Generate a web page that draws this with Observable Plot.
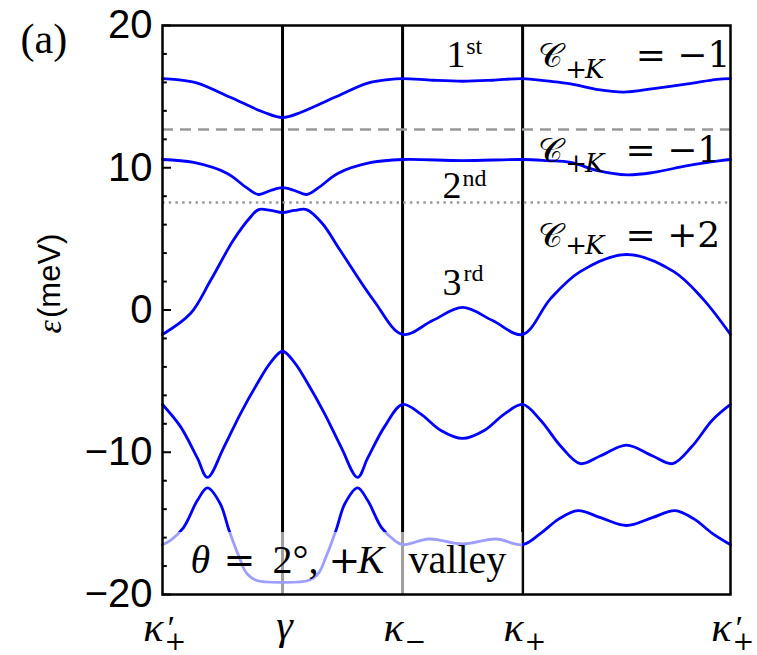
<!DOCTYPE html>
<html><head><meta charset="utf-8">
<script src="https://cdn.jsdelivr.net/npm/d3@7"></script>
<script src="https://cdn.jsdelivr.net/npm/@observablehq/plot@0.6"></script>
<style>body{margin:0;background:#fff} svg{display:block}</style>
</head><body><div id="chart"></div>
<script>
// k-path high-symmetry points (path length units)
const kPos = [0, 1, 2, 3, 4.732];
const kMain = ["κ", "γ", "κ", "κ", "κ"];
const kPrime = ["′", "", "", "", "′"];
const kSub = ["+", "", "−", "+", "+"];
const kLines = [1, 2, 3];

const yTicks = [-20, -10, 0, 10, 20];
const yMinor = [-18, -16, -14, -12, -8, -6, -4, -2, 2, 4, 6, 8, 12, 14, 16, 18];

const dashedLevel = [12.69];
const dottedLevel = [7.56];

// bands: [k, energy (meV)]
const band1 = [[0,16.27],[0.12,16.2],[0.29,15.95],[0.565,14.95],[0.845,13.9],[1,13.53],[1.155,13.9],[1.435,14.95],[1.71,15.95],[1.88,16.2],[2,16.27],[2.25,16.15],[2.5,16.08],[2.75,16.15],[3,16.27],[3.2,16.1],[3.4,15.9],[3.625,15.5],[3.84,15.32],[4.09,15.57],[4.375,15.9],[4.62,16.22],[4.732,16.27]];
const band2 = [[0,10.58],[0.26,10.37],[0.54,9.6],[0.7,8.6],[0.8,8.12],[0.9,8.4],[1,8.6],[1.1,8.4],[1.2,8.12],[1.3,8.6],[1.46,9.6],[1.74,10.37],[2,10.58],[2.5,10.5],[3,10.58],[3.2,10.5],[3.4,10.37],[3.625,9.8],[3.87,9.5],[4.09,9.67],[4.375,10.15],[4.65,10.5],[4.732,10.58]];
const band3 = [[0,-1.72],[0.233,-0.25],[0.4,2.07],[0.59,4.9],[0.73,6.5],[0.8,7.06],[0.9,7.0],[1,6.85],[1.1,7.0],[1.2,7.06],[1.33,6.1],[1.48,4.2],[1.76,0.67],[2,-1.72],[2.25,-0.74],[2.5,0.18],[2.75,-0.74],[3,-1.72],[3.233,0.8],[3.48,2.7],[3.866,3.9],[4.26,2.7],[4.5,0.8],[4.732,-1.72]];
const band4 = [[0,-6.64],[0.15,-8.2],[0.29,-10.4],[0.375,-11.77],[0.51,-9.67],[0.65,-7.28],[0.79,-5.17],[0.9,-3.7],[1,-2.9],[1.1,-3.7],[1.21,-5.17],[1.35,-7.28],[1.49,-9.67],[1.625,-11.77],[1.71,-10.4],[1.85,-8.2],[2,-6.64],[2.15,-7.3],[2.32,-8.47],[2.5,-9.03],[2.68,-8.47],[2.85,-7.3],[3,-6.64],[3.15,-7.75],[3.32,-9.6],[3.48,-10.8],[3.65,-10.25],[3.866,-9.5],[4.08,-10.25],[4.25,-10.8],[4.41,-9.6],[4.58,-7.75],[4.732,-6.64]];
const band5 = [[0,-16.5],[0.067,-16.2],[0.175,-15.3],[0.29,-13.4],[0.375,-12.5],[0.48,-13.6],[0.555,-15.5],[0.64,-17.4],[0.7,-18.5],[0.78,-19.0],[1,-19.15],[1.22,-19.0],[1.3,-18.5],[1.36,-17.4],[1.445,-15.5],[1.52,-13.6],[1.625,-12.5],[1.71,-13.4],[1.825,-15.3],[1.933,-16.2],[2,-16.5],[2.22,-16.1],[2.5,-16.45],[2.78,-16.1],[3,-16.5],[3.15,-15.7],[3.3,-14.7],[3.46,-14.1],[3.65,-14.6],[3.866,-15.15],[4.08,-14.6],[4.27,-14.1],[4.43,-14.7],[4.58,-15.7],[4.732,-16.5]];

const chernLabels = ["= −1", "= −1", "= +2"];
const ordinalMain = ["1", "2", "3"];
const ordinalSup = ["st", "nd", "rd"];

const bands = [band1, band2, band3, band4, band5]
  .flatMap((b, i) => b.map(([k, e]) => ({band: i, k, e})));
const kTicks = kPos.map((x, i) => ({x, main: kMain[i], prime: kPrime[i], sub: kSub[i]}));

const serif = "'DejaVu Serif', 'Liberation Serif', serif";
const times = "'Liberation Serif', serif";
const sans = "'Liberation Sans', Arial, sans-serif";

const chart = Plot.plot({
  width: 757, height: 655,
  marginLeft: 162, marginRight: 27, marginTop: 25, marginBottom: 61,
  x: {domain: [0, 4.732], axis: null},
  y: {domain: [-20, 20], axis: null},
  style: {background: "white", color: "black"},
  marks: [
    Plot.ruleX(kLines, {stroke: "black", strokeWidth: 3}),
    Plot.ruleY(dashedLevel, {stroke: "#999", strokeWidth: 2.5, strokeDasharray: "11,7"}),
    Plot.ruleY(dottedLevel, {stroke: "#999", strokeWidth: 2.5, strokeDasharray: "2.5,4.2"}),
    Plot.line(bands, {x: "k", y: "e", z: "band", stroke: "#0000ff", strokeWidth: 2.8, curve: "catmull-rom"}),
    Plot.rect([0], {x1: 0, x2: 3, y1: -20, y2: -15.64, fill: "white", fillOpacity: 0.62}),
    Plot.frame({stroke: "black", strokeWidth: 2.5}),
    Plot.ruleY(yTicks, {x1: 0, x2: 0.075, stroke: "black", strokeWidth: 2}),
    Plot.ruleY(yMinor, {x1: 0, x2: 0.04, stroke: "black", strokeWidth: 2}),
    Plot.axisY(yTicks, {anchor: "left", tickSize: 0, tickPadding: 10, fontSize: 40, fontFamily: sans, label: null}),
    // y label
    Plot.text(["(meV)"], {frameAnchor: "left", dx: -112, dy: 8, rotate: -90, textAnchor: "start", lineAnchor: "middle", fontSize: 31, fontFamily: sans}),
    Plot.text(["ε"], {frameAnchor: "left", dx: -112, dy: 10, rotate: -90, textAnchor: "end", lineAnchor: "middle", fontSize: 34, fontStyle: "italic", fontFamily: times}),
    // panel label
    Plot.text(["(a)"], {frameAnchor: "top-left", dx: -142, dy: 27, textAnchor: "start", lineAnchor: "bottom", fontSize: 42, fontFamily: times}),
    // x tick labels
    Plot.text(kTicks.filter(d => d.main === "κ"), {x: "x", text: "main", frameAnchor: "bottom", dy: 46, textAnchor: "end", dx: 1, lineAnchor: "bottom", fontSize: 42, fontStyle: "italic", fontFamily: times}),
    Plot.text(kTicks.filter(d => d.main === "γ"), {x: "x", text: "main", frameAnchor: "bottom", dy: 44, textAnchor: "middle", dx: 2, lineAnchor: "bottom", fontSize: 42, fontStyle: "italic", fontFamily: times}),
    Plot.text(kTicks, {x: "x", text: "prime", frameAnchor: "bottom", dy: 44, textAnchor: "start", dx: 3, lineAnchor: "bottom", fontSize: 34, fontStyle: "italic", fontFamily: times}),
    Plot.text(kTicks, {x: "x", text: "sub", frameAnchor: "bottom", dy: 55, textAnchor: "start", dx: 2, lineAnchor: "bottom", fontSize: 26, fontFamily: serif}),
    // Chern number labels
    Plot.text(["𝒞", "𝒞", "𝒞"], {x: 3.125, y: [17.05, 10.37, 4.46], textAnchor: "start", lineAnchor: "bottom", fontSize: 34, fontFamily: serif}),
    Plot.text(["+", "+", "+"], {x: 3.355, y: [16.34, 9.67, 3.97], textAnchor: "start", lineAnchor: "bottom", fontSize: 26, fontFamily: serif}),
    Plot.text(["K", "K", "K"], {x: 3.52, y: [16.34, 9.67, 3.97], textAnchor: "start", lineAnchor: "bottom", fontSize: 26, fontStyle: "italic", fontFamily: serif}),
    Plot.text(chernLabels, {x: [3.942, 3.858, 3.858], y: [17.05, 10.37, 4.46], textAnchor: "start", lineAnchor: "bottom", fontSize: 36, fontFamily: serif}),
    // band ordinals
    Plot.text(ordinalMain, {x: [2.367, 2.333, 2.333], y: [17.05, 7.84, 1.02], textAnchor: "start", lineAnchor: "bottom", fontSize: 38, fontFamily: times}),
    Plot.text(ordinalSup, {x: [2.53, 2.5, 2.508], y: [18.03, 8.75, 2.07], textAnchor: "start", lineAnchor: "bottom", fontSize: 24, fontFamily: times}),
    // theta label
    Plot.text(["θ", "K"], {x: [0.233, 1.625], y: -18.52, textAnchor: "start", lineAnchor: "bottom", fontSize: 40, fontStyle: "italic", fontFamily: times}),
    Plot.text(["=", "+"], {x: [0.508, 1.383], y: -18.52, textAnchor: "start", lineAnchor: "bottom", fontSize: 38, fontFamily: serif}),
    Plot.text(["2°,", "valley"], {x: [0.917, 2.05], y: -18.52, textAnchor: "start", lineAnchor: "bottom", fontSize: 40, fontFamily: times})
  ]
});
document.getElementById("chart").append(chart);
</script></body></html>
